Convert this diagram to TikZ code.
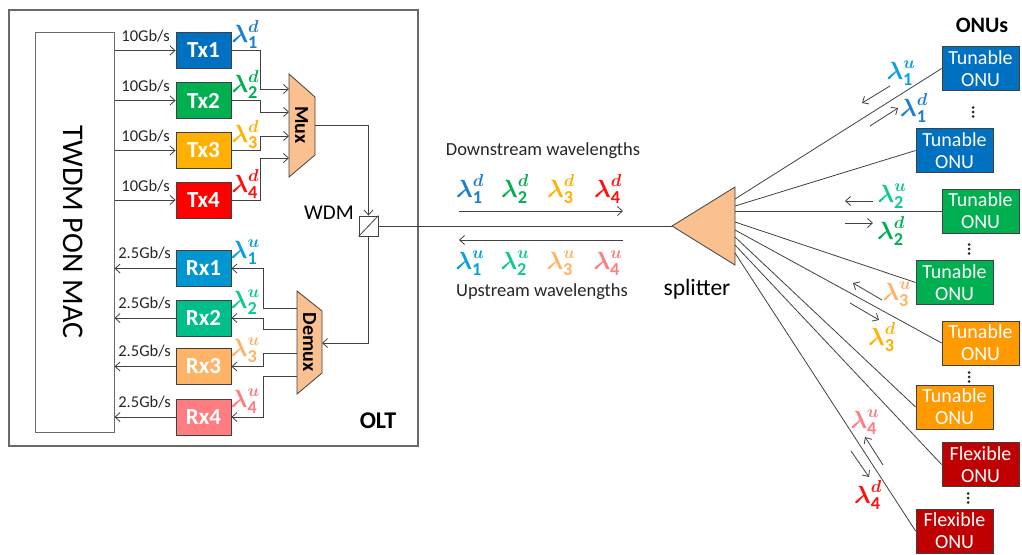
\documentclass[tikz,border=0pt]{standalone}
\usepackage{fontspec}
\setmainfont{Carlito}
\usepackage{amsmath}
\usetikzlibrary{arrows.meta,calc}

\definecolor{linegray}{HTML}{404040}
\definecolor{framegray}{HTML}{6A6A6A}
\definecolor{peach}{HTML}{FAC090}
\definecolor{cTxA}{HTML}{0070C0}
\definecolor{cTxB}{HTML}{00B050}
\definecolor{cTxC}{HTML}{FFB000}
\definecolor{cTxD}{HTML}{FF0000}
\definecolor{cRxA}{HTML}{0096D2}
\definecolor{cRxB}{HTML}{00BE8C}
\definecolor{cRxC}{HTML}{FFB366}
\definecolor{cRxD}{HTML}{FF7C80}
\definecolor{lDA}{HTML}{1A7FD0}
\definecolor{lDB}{HTML}{00B050}
\definecolor{lDC}{HTML}{FFB000}
\definecolor{lDD}{HTML}{FF1010}
\definecolor{lUA}{HTML}{0AA0DC}
\definecolor{lUB}{HTML}{10C896}
\definecolor{lUC}{HTML}{FFB366}
\definecolor{lUD}{HTML}{FF7C80}
\definecolor{onuBlue}{HTML}{0070C0}
\definecolor{onuGreen}{HTML}{00B050}
\definecolor{onuOrange}{HTML}{FF9A00}
\definecolor{onuRed}{HTML}{C00000}

% wavelength label: colour, index, direction letter
\newcommand{\wl}[3]{\textcolor{#1}{$\boldsymbol{\lambda}^{\boldsymbol{#3}}_{\text{\bfseries #2}}$}}

\begin{document}
\begin{tikzpicture}[x=1pt,y=-1pt,
  wire/.style={draw=linegray, line width=0.8pt},
  arr/.style={wire, -{Straight Barb[length=5pt,width=9pt]}},
  txbox/.style={draw=linegray, line width=0.8pt, minimum width=55pt, minimum height=36pt,
    inner sep=0pt, text=white, font=\fontsize{23}{25}\selectfont\bfseries},
  onubox/.style={draw=linegray, line width=0.8pt, minimum width=77pt, minimum height=44pt,
    inner sep=0pt, text=white, align=center, font=\fontsize{20}{22}\selectfont},
  rate/.style={font=\fontsize{16.5}{18}\selectfont, text=black!85, inner sep=0pt},
  wlab/.style={font=\fontsize{26}{28}\selectfont, inner sep=0pt},
  optic/.style={fill=peach, draw=linegray, line width=0.8pt},
  caption/.style={font=\fontsize{18.5}{20}\selectfont, text=black!85, inner sep=0pt},
  vdotmark/.pic={\foreach \k in {-4.5,0,4.5} \fill[black!85] (0,\k) circle (1.5pt);}
]
\useasboundingbox (0,0) rectangle (1022,554);

% ---------------- OLT ----------------
\node[draw=framegray, line width=1.2pt, minimum width=409pt, minimum height=436pt] (olt) at (213.5,228) {};
\node[draw=framegray, line width=1pt, minimum width=79pt, minimum height=400pt] (mac) at (74.5,232) {};
\node[rotate=-90, font=\fontsize{30}{32}\selectfont, inner sep=0pt] (macl) at (73,232) {TWDM PON MAC};
\node[font=\fontsize{24}{26}\selectfont\bfseries, inner sep=0pt] (oltl) at (378,421) {OLT};

% transmitters
\node[txbox, fill=cTxA] (tx1) at (203.5,50.5) {Tx1};
\node[txbox, fill=cTxB] (tx2) at (203.5,100.5) {Tx2};
\node[txbox, fill=cTxC] (tx3) at (203.5,150.5) {Tx3};
\node[txbox, fill=cTxD] (tx4) at (203.5,200) {Tx4};

% receivers
\node[txbox, fill=cRxA] (rx1) at (203.5,268.5) {Rx1};
\node[txbox, fill=cRxB] (rx2) at (203.5,318) {Rx2};
\node[txbox, fill=cRxC] (rx3) at (203.5,366.5) {Rx3};
\node[txbox, fill=cRxD] (rx4) at (203.5,417) {Rx4};

% MAC <-> Tx / Rx
\foreach \i in {1,...,4}{
  \draw[arr] (mac.east |- tx\i) -- (tx\i.west);
  \node[rate] (txr\i) at ($(tx\i.west)+(-30,-14)$) {10Gb/s};
  \draw[arr] (rx\i.west) -- (mac.east |- rx\i);
  \node[rate] (rxr\i) at ($(rx\i.west)+(-31,-15)$) {2.5Gb/s};
}

% wavelength tags beside Tx / Rx
\node[wlab] (ltx1) at ($(tx1.east)+(14,-16)$) {\wl{lDA}{1}{d}};
\node[wlab] (ltx2) at ($(tx2.east)+(14,-16)$) {\wl{lDB}{2}{d}};
\node[wlab] (ltx3) at ($(tx3.east)+(14,-16)$) {\wl{lDC}{3}{d}};
\node[wlab] (ltx4) at ($(tx4.east)+(14,-16)$) {\wl{lDD}{4}{d}};
\node[wlab] (lrx1) at ($(rx1.east)+(14,-16)$) {\wl{lUA}{1}{u}};
\node[wlab] (lrx2) at ($(rx2.east)+(14,-16)$) {\wl{lUB}{2}{u}};
\node[wlab] (lrx3) at ($(rx3.east)+(14,-16)$) {\wl{lUC}{3}{u}};
\node[wlab] (lrx4) at ($(rx4.east)+(14,-16)$) {\wl{lUD}{4}{u}};

% multiplexer
\draw[optic] (289,74) -- (315,97) -- (315,155) -- (289,177) -- cycle;
\node[rotate=-90, font=\fontsize{20}{21}\selectfont\bfseries, inner sep=0pt] (mux) at (301.5,125) {Mux};
\coordinate (muxin1) at (289,89);
\coordinate (muxin2) at (289,112);
\coordinate (muxin3) at (289,136);
\coordinate (muxin4) at (289,158);
\coordinate (muxout) at (315,125);
\foreach \i in {1,...,4}{
  \draw[arr] (tx\i.east) -- ++(29,0) |- (muxin\i);
}

% demultiplexer
\draw[optic] (297,291) -- (322,311) -- (322,373) -- (297,394) -- cycle;
\node[rotate=-90, font=\fontsize{20}{21}\selectfont\bfseries, inner sep=0pt] (demux) at (309.5,342) {Demux};
\coordinate (dmin) at (322,343);
\coordinate (dm1) at (297,308);
\coordinate (dm2) at (297,329);
\coordinate (dm3) at (297,353);
\coordinate (dm4) at (297,376);
\foreach \i in {1,...,4}{
  \draw[arr] (dm\i) -- ++(-34,0) |- (rx\i.east);
}

% WDM coupler
\node[draw=linegray, fill=white, line width=0.8pt, minimum width=19pt, minimum height=20pt, inner sep=0pt] (wdm) at (368.5,226) {};
\draw[wire] (wdm.south west) -- (wdm.north east);
\node[font=\fontsize{21}{22}\selectfont, inner sep=0pt] (wdml) at (329,213) {WDM};
\draw[arr] (muxout) -| (wdm.north);
\draw[arr] (wdm.south) |- (dmin);

% ---------------- feeder fibre ----------------
\coordinate (tip) at (672,226);
\draw[wire] (wdm.east) -- (tip);
\node[caption] (dsl) at (543,151) {Downstream wavelengths};
\node[caption] (usl) at (542,292) {Upstream wavelengths};
\node[wlab] (d1) at (470,189) {\wl{lDA}{1}{d}};
\node[wlab] (d2) at (515,189) {\wl{lDB}{2}{d}};
\node[wlab] (d3) at (561,189) {\wl{lDC}{3}{d}};
\node[wlab] (d4) at (608,189) {\wl{lDD}{4}{d}};
\node[wlab] (u1) at (470,263) {\wl{lUA}{1}{u}};
\node[wlab] (u2) at (515,263) {\wl{lUB}{2}{u}};
\node[wlab] (u3) at (561,263) {\wl{lUC}{3}{u}};
\node[wlab] (u4) at (608,263) {\wl{lUD}{4}{u}};
\coordinate (dsa) at (459,211);
\coordinate (dsb) at (623,211);
\coordinate (usa) at (623,240);
\coordinate (usb) at (459,240);
\draw[arr] (dsa) -- (dsb);
\draw[arr] (usa) -- (usb);

% ---------------- splitter ----------------
\draw[optic] (tip) -- (735,187) -- (735,265) -- cycle;
\node[font=\fontsize{23.5}{25}\selectfont, inner sep=0pt] (splt) at (697,289) {splitter};

% ---------------- ONUs ----------------
\node[font=\fontsize{22}{24}\selectfont\bfseries, inner sep=0pt] (onus) at (982,25) {ONUs};
\node[onubox, fill=onuBlue]   (onu1) at (980.5,68.5) {Tunable\\ONU};
\node[onubox, fill=onuBlue]   (onu2) at (954.5,150.5) {Tunable\\ONU};
\node[onubox, fill=onuGreen]  (onu3) at (980.5,211) {Tunable\\ONU};
\node[onubox, fill=onuGreen]  (onu4) at (954.5,282.5) {Tunable\\ONU};
\node[onubox, fill=onuOrange] (onu5) at (980.5,343) {Tunable\\ONU};
\node[onubox, fill=onuOrange] (onu6) at (954.5,407) {Tunable\\ONU};
\node[onubox, fill=onuRed]    (onu7) at (980.5,464.5) {Flexible\\ONU};
\node[onubox, fill=onuRed]    (onu8) at (954.5,531) {Flexible\\ONU};

% "more ONUs" marks between the boxes
\pic at (973,112) {vdotmark};
\pic at (969,249) {vdotmark};
\pic at (969,377) {vdotmark};
\pic at (968,498) {vdotmark};

% drop fibres
\coordinate (sp1) at (735,199);
\coordinate (sp2) at (735,206);
\coordinate (sp3) at (735,211);
\coordinate (sp4) at (735,222);
\coordinate (sp5) at (735,230);
\coordinate (sp6) at (735,237);
\coordinate (sp7) at (735,245);
\coordinate (sp8) at (735,253);
\foreach \i in {1,...,8}{
  \draw[wire] (sp\i) -- (onu\i.west);
}

% direction marks on the drop fibres
\coordinate (a1s) at (890,86);   \coordinate (a1e) at (862,103);
\coordinate (b1s) at (870,126);  \coordinate (b1e) at (898,108);
\coordinate (a2s) at (873,201);  \coordinate (a2e) at (845,201);
\coordinate (b2s) at (845,223);  \coordinate (b2e) at (873,223);
\coordinate (a3s) at (882,300);  \coordinate (a3e) at (853,283);
\coordinate (b3s) at (850,303);  \coordinate (b3e) at (879,320);
\coordinate (a4s) at (883,465);  \coordinate (a4e) at (865,437);
\coordinate (b4s) at (851,451);  \coordinate (b4e) at (869,477);
\foreach \i in {1,...,4}{
  \draw[arr] (a\i s) -- (a\i e);
  \draw[arr] (b\i s) -- (b\i e);
}
\node[wlab] (o1u) at (901,73)  {\wl{lUA}{1}{u}};
\node[wlab] (o1d) at (914,108) {\wl{lDA}{1}{d}};
\node[wlab] (o2u) at (892,196) {\wl{lUB}{2}{u}};
\node[wlab] (o2d) at (891,231) {\wl{lDB}{2}{d}};
\node[wlab] (o3u) at (897,294) {\wl{lUC}{3}{u}};
\node[wlab] (o3d) at (882,337) {\wl{lDC}{3}{d}};
\node[wlab] (o4u) at (865,422) {\wl{lUD}{4}{u}};
\node[wlab] (o4d) at (868,495) {\wl{lDD}{4}{d}};
\end{tikzpicture}
\end{document}
